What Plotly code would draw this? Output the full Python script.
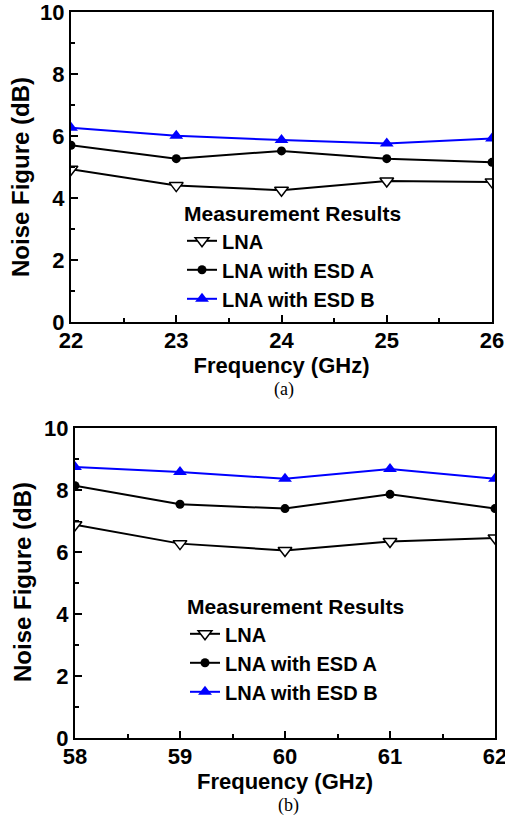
import plotly.graph_objects as go

# ---- data (a) ----
freq_a = [22, 23, 24, 25, 26]
lna_a = [4.93, 4.40, 4.25, 4.55, 4.52]
esd_a_a = [5.70, 5.27, 5.52, 5.27, 5.15]
esd_b_a = [6.27, 6.01, 5.87, 5.76, 5.92]

# ---- data (b) ----
freq_b = [58, 59, 60, 61, 62]
lna_b = [6.88, 6.27, 6.05, 6.34, 6.45]
esd_a_b = [8.14, 7.54, 7.40, 7.86, 7.40]
esd_b_b = [8.74, 8.58, 8.36, 8.68, 8.36]

names = ["LNA", "LNA with ESD A", "LNA with ESD B"]
legend_title = "Measurement Results"
caption_a = "(a)"
caption_b = "(b)"
x_title = "Frequency (GHz)"
y_title = "Noise Figure (dB)"

FONT = "Liberation Sans, Arial, sans-serif"
W, H = 505, 820

def px_x(p):
    return p / W

def px_y(p):
    return 1 - p / H

fig = go.Figure()

styles = [
    dict(line=dict(color="black", width=2),
         marker=dict(symbol="triangle-down", size=12, color="white",
                     line=dict(color="black", width=1.5))),
    dict(line=dict(color="black", width=2),
         marker=dict(symbol="circle", size=9, color="black")),
    dict(line=dict(color="#0000FF", width=2),
         marker=dict(symbol="triangle-up", size=12, color="#0000FF")),
]

for xa, ya, lg, xs, series in [
    ("x", "y", "legend", freq_a, [lna_a, esd_a_a, esd_b_a]),
    ("x2", "y2", "legend2", freq_b, [lna_b, esd_a_b, esd_b_b]),
]:
    for name, vals, st in zip(names, series, styles):
        fig.add_trace(go.Scatter(
            x=xs, y=vals, name=name, mode="lines+markers",
            xaxis=xa, yaxis=ya, legend=lg, **st))

axis_common = dict(
    showline=True, linecolor="black", linewidth=2, mirror=True,
    ticks="inside", ticklen=7, tickwidth=2, tickcolor="black",
    showgrid=False, zeroline=False, automargin=False,
    ticklabeloverflow="allow",
    tickfont=dict(family=FONT, size=22, color="black", weight="bold"),
)

xdom_a = [px_x(71), px_x(492)]
ydom_a = [px_y(322), px_y(12)]
xdom_b = [px_x(75), px_x(495)]
ydom_b = [px_y(738), px_y(428)]

def xaxis(dom, anchor, rng):
    return dict(domain=dom, anchor=anchor, range=rng, dtick=1,
                minor=dict(ticks="inside", ticklen=4, tickwidth=2, dtick=0.5, tickcolor="black"),
                ticklabelstandoff=-2,
                title=dict(text=x_title, font=dict(family=FONT, size=22, weight="bold"), standoff=0),
                **axis_common)

def yaxis(dom, anchor):
    return dict(domain=dom, anchor=anchor, range=[0, 10], dtick=2,
                minor=dict(ticks="inside", ticklen=4, tickwidth=2, dtick=1, tickcolor="black"),
                **axis_common)

def legend(xp, yp):
    return dict(x=px_x(xp), y=px_y(yp), xanchor="left", yanchor="top",
                bgcolor="rgba(0,0,0,0)", borderwidth=0,
                title=dict(text=legend_title, font=dict(family=FONT, size=21, weight="bold")),
                font=dict(family=FONT, size=20, weight="bold", color="black"),
                itemwidth=30, tracegroupgap=0)

serif = dict(family="Liberation Serif, Times New Roman, serif", size=18,
             weight="normal", color="black")
ytitle_font = dict(family=FONT, size=24, weight="bold", color="black")

fig.update_layout(
    width=W, height=H,
    margin=dict(l=0, r=0, t=0, b=0, autoexpand=False),
    paper_bgcolor="white", plot_bgcolor="white",
    font=dict(family=FONT, color="black", weight="bold"),
    showlegend=True,
    xaxis=xaxis(xdom_a, "y", [22, 26]),
    yaxis=yaxis(ydom_a, "x"),
    xaxis2=xaxis(xdom_b, "y2", [58, 62]),
    yaxis2=yaxis(ydom_b, "x2"),
    legend=legend(182, 194),
    legend2=legend(185, 587),
    annotations=[
        dict(text=y_title, x=px_x(21), y=px_y(177), xref="paper", yref="paper",
             xanchor="center", yanchor="middle", textangle=-90, showarrow=False,
             font=ytitle_font),
        dict(text=y_title, x=px_x(22), y=px_y(582), xref="paper", yref="paper",
             xanchor="center", yanchor="middle", textangle=-90, showarrow=False,
             font=ytitle_font),
        dict(text=caption_a, x=px_x(284), y=px_y(389), xref="paper", yref="paper",
             xanchor="center", yanchor="middle", showarrow=False, font=serif),
        dict(text=caption_b, x=px_x(288), y=px_y(805), xref="paper", yref="paper",
             xanchor="center", yanchor="middle", showarrow=False, font=serif),
    ],
)

fig.write_html("out.html")
